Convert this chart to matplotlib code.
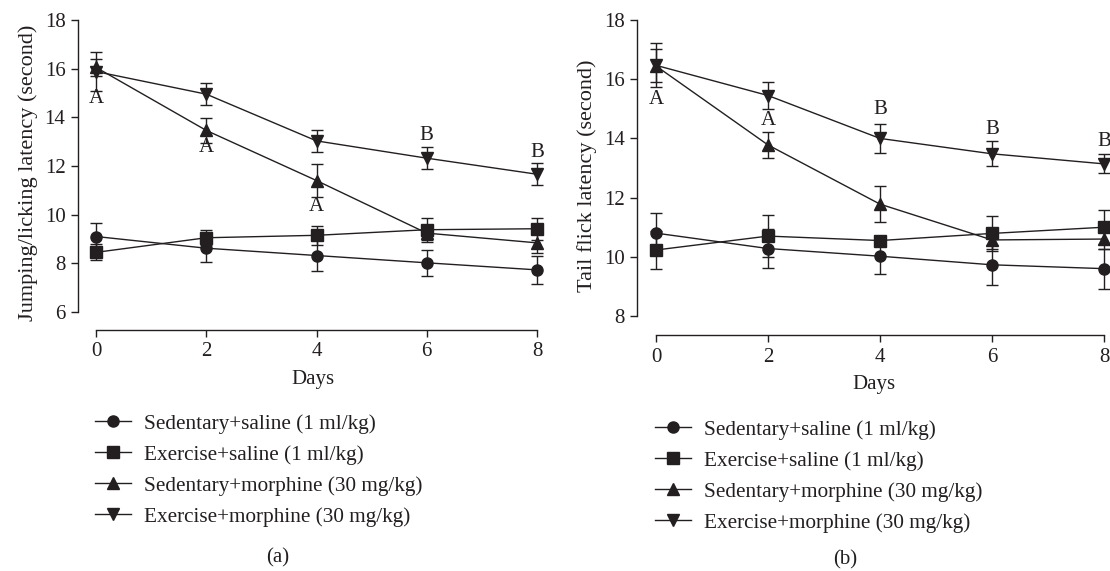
import matplotlib
matplotlib.use("Agg")
import matplotlib.pyplot as plt

plt.rcParams["font.family"] = ["Liberation Serif", "DejaVu Serif"]

INK = "#231f20"

days = [0, 2, 4, 6, 8]
labels = ["Sedentary+saline (1 ml/kg)", "Exercise+saline (1 ml/kg)",
          "Sedentary+morphine (30 mg/kg)", "Exercise+morphine (30 mg/kg)"]
markers = ["o", "s", "^", "v"]

# panel (a): jumping/licking latency
a_sed_sal = [9.1, 8.62, 8.32, 8.02, 7.73]
a_sed_sal_err = [0.56, 0.55, 0.64, 0.53, 0.57]
a_ex_sal = [8.45, 9.05, 9.15, 9.38, 9.42]
a_ex_sal_err = [0.33, 0.3, 0.38, 0.49, 0.45]
a_sed_mor = [16.05, 13.46, 11.4, 9.24, 8.84]
a_sed_mor_err = [0.35, 0.5, 0.68, 0.3, 0.4]
a_ex_mor = [15.88, 14.95, 13.03, 12.32, 11.66]
a_ex_mor_err = [0.8, 0.46, 0.46, 0.45, 0.45]
a_marks = [(0, 14.78, "A"), (2, 12.77, "A"), (4, 10.33, "A"),
           (6, 13.27, "B"), (8, 12.56, "B")]

# panel (b): tail flick latency
b_sed_sal = [10.8, 10.28, 10.02, 9.73, 9.6]
b_sed_sal_err = [0.69, 0.67, 0.61, 0.68, 0.68]
b_ex_sal = [10.23, 10.7, 10.55, 10.79, 11.0]
b_ex_sal_err = [0.65, 0.7, 0.15, 0.6, 0.58]
b_sed_mor = [16.45, 13.78, 11.78, 10.57, 10.6]
b_sed_mor_err = [0.56, 0.43, 0.62, 0.3, 0.33]
b_ex_mor = [16.47, 15.45, 14.0, 13.48, 13.14]
b_ex_mor_err = [0.74, 0.44, 0.49, 0.42, 0.32]
b_marks = [(0, 15.3, "A"), (2, 14.59, "A"), (4, 14.99, "B"),
           (6, 14.31, "B"), (8, 13.89, "B")]


def draw_panel(ax, series, errs, marks, ylabel, ylim, yticks, xlim):
    handles = []
    for vals, err, m, lab in zip(series, errs, markers, labels):
        ax.errorbar(days, vals, yerr=err, fmt="none", ecolor=INK,
                    elinewidth=1.0, capsize=4, capthick=1.0, zorder=2)
        h, = ax.plot(days, vals, color=INK, lw=1.0, marker=m,
                     markersize=8, markerfacecolor=INK,
                     markeredgecolor=INK, label=lab, zorder=3)
        handles.append(h)
    for x, y, t in marks:
        ax.text(x, y, t, ha="center", va="center", fontsize=15, color=INK)

    ax.set_xlim(*xlim)
    ax.set_ylim(*ylim)
    ax.set_xticks(days)
    ax.set_yticks(yticks)
    for s in ["top", "right"]:
        ax.spines[s].set_visible(False)
    ax.spines["left"].set_bounds(yticks[0], yticks[-1])
    ax.spines["bottom"].set_bounds(0, 8)
    for s in ["left", "bottom"]:
        ax.spines[s].set_color(INK)
        ax.spines[s].set_linewidth(1.0)
    ax.tick_params(colors=INK, labelsize=15, length=5, width=1.0, pad=4)
    ax.set_xlabel("Days", fontsize=15, color=INK, labelpad=6)
    ax.set_ylabel(ylabel, fontsize=16, color=INK, labelpad=5)
    ax.set_facecolor("none")
    return handles


fig = plt.figure(figsize=(11.1, 5.71), dpi=100)
ax1 = fig.add_axes([0.0703, 0.4221, 0.4234, 0.5515])
ax2 = fig.add_axes([0.5743, 0.4133, 0.4257, 0.5594])

h1 = draw_panel(ax1, [a_sed_sal, a_ex_sal, a_sed_mor, a_ex_mor],
                [a_sed_sal_err, a_ex_sal_err, a_sed_mor_err, a_ex_mor_err],
                a_marks, "Jumping/licking latency (second)",
                (5.26, 18.2), [6, 8, 10, 12, 14, 16, 18], (-0.327, 8.2))
h2 = draw_panel(ax2, [b_sed_sal, b_ex_sal, b_sed_mor, b_ex_mor],
                [b_sed_sal_err, b_ex_sal_err, b_sed_mor_err, b_ex_mor_err],
                b_marks, "Tail flick latency (second)",
                (7.358, 18.15), [8, 10, 12, 14, 16, 18], (-0.33, 8.107))

leg_kw = dict(frameon=False, fontsize=15.3, handlelength=1.7,
              handletextpad=0.6, labelspacing=0.52, borderpad=0,
              borderaxespad=0, loc="upper left", labelcolor=INK,
              bbox_transform=fig.transFigure)
fig.legend(handles=h1, bbox_to_anchor=(95 / 1110, 1 - 414 / 571), **leg_kw)
fig.legend(handles=h2, bbox_to_anchor=(655 / 1110, 1 - 420 / 571), **leg_kw)

fig.text(278 / 1110, 1 - 558 / 571, "(a)", ha="center", va="center",
         fontsize=15, color=INK)
fig.text(845 / 1110, 1 - 560 / 571, "(b)", ha="center", va="center",
         fontsize=15, color=INK)

fig.savefig("out.png", dpi=100)
